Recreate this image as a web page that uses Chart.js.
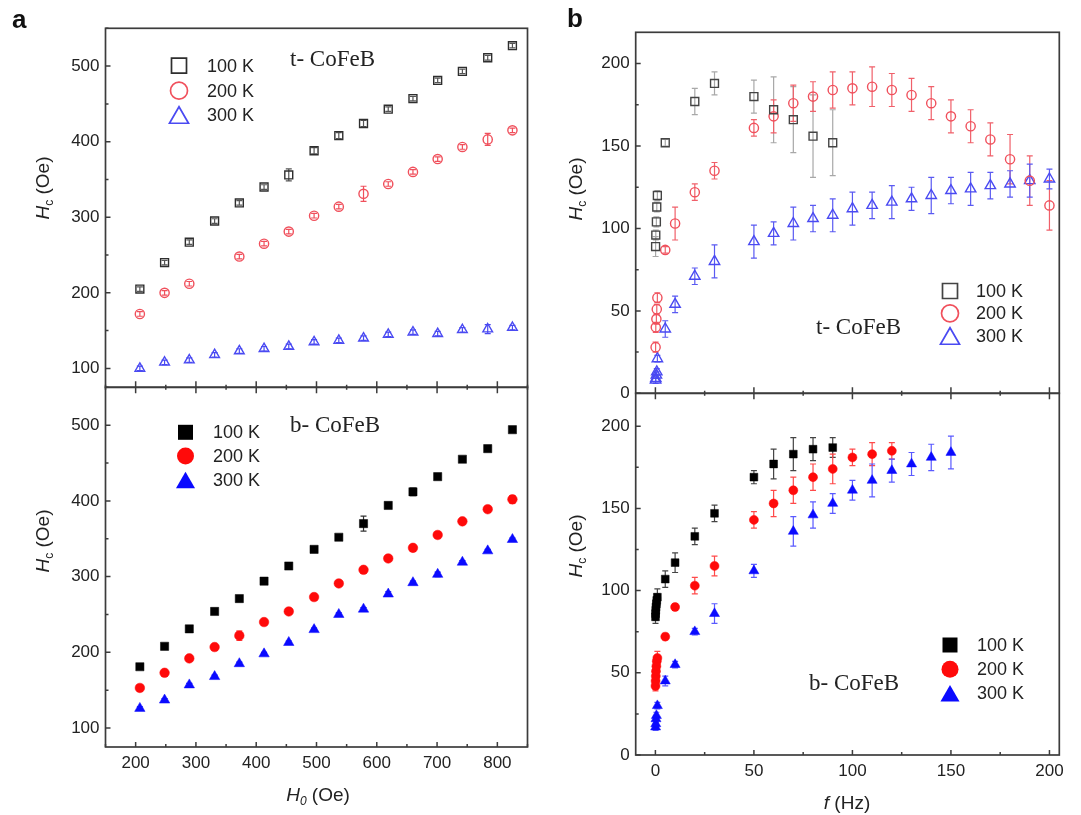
<!DOCTYPE html>
<html><head><meta charset="utf-8">
<script src="https://cdn.jsdelivr.net/npm/chart.js@4/dist/chart.umd.min.js"></script>
<style>
html,body{margin:0;padding:0;background:#fff;}
#wrap{position:relative;width:1081px;height:815px;overflow:hidden;background:#fff;}
#wrap canvas{position:absolute;left:0;top:0;}
</style></head><body>
<div id="wrap">
<canvas id="cTL" width="1081" height="815"></canvas>
<canvas id="cBL" width="1081" height="815"></canvas>
<canvas id="cTR" width="1081" height="815"></canvas>
<canvas id="cBR" width="1081" height="815"></canvas>
</div>
<script>
// ================= DATA =================
// Panel a : Hc vs H0
const H0 = [207,248,289,331,372,413,454,496,537,578,619,660,701,742,784,825];
const tHc100 = [205,240,267,295,319,340,356,388,408,424,443,457,481,493,511,527];
const tHc200 = [172,200,212,null,248,265,281,302,314,331,344,360,377,393,403,415];
const tHc300 = [100,108,111,118,123,126,129,135,137,140,145,148,146,151,152,154];
const tErr100 = [3,3,3,3,3,3,8,4,4,4,3,3,3,3,3,3];
const tErr200 = [3,3,3,0,3,3,3,3,3,10,3,3,3,3,8,3];
const tErr300 = [3,3,3,3,3,3,3,3,3,3,3,3,3,3,6,3];
const bHc100 = [181,208,231,254,271,294,314,336,352,370,394,412,432,455,469,494];
const bHc200 = [153,173,192,207,222,240,254,273,291,309,324,338,355,373,389,402];
const bHc300 = [126,137,157,168,185,198,213,230,250,257,277,292,303,319,334,349];
const bErr100 = [2,2,2,2,2,2,2,2,2,10,2,5,2,2,2,2];
const bErr200 = [2,2,2,2,6,2,2,4,2,2,2,2,2,2,2,5];
const bErr300 = [2,2,2,2,2,2,2,2,2,2,3,2,3,2,2,2];

// Panel b : Hc vs f
const fT100 = [0.1,0.2,0.5,0.7,1,5,20,30,50,60,70,80,90];
const tfHc100 = [89,96,104,113,120,152,177,188,180,172,166,156,152];
const tfErr100 = [6,3,3,3,3,2,8,7,10,20,20,25,20];
const fT200 = [0.1,0.2,0.5,0.7,1,5,10,20,30,50,60,70,80,90,100,110,120,130,140,150,160,170,180,190,200];
const tfHc200 = [28,40,45,51,58,87,103,122,135,161,168,176,180,184,185,186,184,181,176,168,162,154,142,129,114];
const tfErr200 = [3,3,3,3,3,2,10,5,5,5,10,11,9,11,10,12,10,10,10,10,10,10,15,15,15];
const fT300 = [0.1,0.2,0.5,0.7,1,5,10,20,30,50,60,70,80,90,100,110,120,130,140,150,160,170,180,190,200];
const tfHc300 = [8,9,11,13,21,39,54,71,80,92,97,103,106,108,112,114,116,118,120,123,124,126,127,129,130];
const tfErr300 = [2,2,2,2,2,5,5,5,10,10,7,10,8,10,10,8,10,7,11,8,10,8,8,10,6];

const fB100 = [0.05,0.1,0.2,0.3,0.5,0.7,1,5,10,20,30,50,60,70,80,90];
const bfHc100 = [84,86,88,90,92,94,96,107,117,133,147,169,177,183,186,187];
const bfErr100 = [4,4,4,4,4,4,5,5,6,5,5,4,9,10,7,6];
const fB200 = [0.05,0.1,0.2,0.3,0.5,0.7,1,5,10,20,30,50,60,70,80,90,100,110,120];
const bfHc200 = [42,45,48,51,54,57,59,72,90,103,115,143,153,161,169,174,181,183,185];
const bfErr200 = [3,3,3,3,3,3,4,2,2,5,6,5,8,8,8,9,5,7,5];
const fB300 = [0.1,0.2,0.3,0.5,1,5,10,20,30,50,70,80,90,100,110,120,130,140,150];
const bfHc300 = [17,19,22,24,30,45,55,75,86,112,136,146,153,161,167,173,177,181,184];
const bfErr300 = [2,2,2,2,2,3,2,2,6,4,9,8,6,6,10,7,7,8,10];

// Ticks
const ticksH0 = [200,300,400,500,600,700,800];
const ticksHcA = [100,200,300,400,500];
const ticksF = [0,50,100,150,200];
const ticksHcB = [0,50,100,150,200];
const seriesLabels = ['100 K','200 K','300 K'];

// ================= HELPERS =================
const SANS = 'Liberation Sans';
const W = 1081, H = 815;

function pts(xs, ys, es) {
  const d = [], e = [];
  xs.forEach((x, i) => { if (ys[i] !== null) { d.push({x: x, y: ys[i]}); e.push(es[i]); } });
  return {d, e};
}
function ds(xs, ys, es, style, r, color, filled, errColor) {
  const p = pts(xs, ys, es);
  return {
    data: p.d, errors: p.e, errColor: errColor,
    pointStyle: style, pointRadius: r, pointHoverRadius: r,
    pointBorderWidth: filled ? 0.5 : 1.4,
    pointBorderColor: color,
    pointBackgroundColor: filled ? color : 'rgba(0,0,0,0)',
    showLine: false
  };
}

const errorBarPlugin = {
  id: 'errbars',
  beforeDatasetsDraw(chart) {
    const ctx = chart.ctx, ys = chart.scales.y;
    chart.data.datasets.forEach((d, i) => {
      if (!d.errors) return;
      const meta = chart.getDatasetMeta(i);
      ctx.save();
      ctx.strokeStyle = d.errColor; ctx.lineWidth = 1.2;
      meta.data.forEach((el, j) => {
        const e = d.errors[j];
        if (!e) return;
        const v = d.data[j].y;
        const y1 = ys.getPixelForValue(v + e), y2 = ys.getPixelForValue(v - e), x = el.x;
        ctx.beginPath();
        ctx.moveTo(x, y1); ctx.lineTo(x, y2);
        ctx.moveTo(x - 3, y1); ctx.lineTo(x + 3, y1);
        ctx.moveTo(x - 3, y2); ctx.lineTo(x + 3, y2);
        ctx.stroke();
      });
      ctx.restore();
    });
  }
};

function framePlugin(xTicks, yTicks, xMinor, yMinor, crossX) {
  return {
    id: 'frame',
    afterDraw(chart) {
      const {ctx, chartArea: a} = chart;
      const xs = chart.scales.x, ys = chart.scales.y;
      ctx.save();
      ctx.strokeStyle = '#3c3c3c';
      ctx.lineWidth = 1.7;
      ctx.strokeRect(a.left, a.top, a.right - a.left, a.bottom - a.top);
      ctx.lineWidth = 1.5;
      ctx.beginPath();
      // y major + minor ticks (inward)
      yTicks.forEach(v => { const p = ys.getPixelForValue(v); ctx.moveTo(a.left, p); ctx.lineTo(a.left + 5, p); });
      for (let v = ys.min; v <= ys.max; v += 1) {
        if (Math.abs(v % yMinor) < 1e-9 && !yTicks.includes(v)) {
          const p = ys.getPixelForValue(v); ctx.moveTo(a.left, p); ctx.lineTo(a.left + 3, p);
        }
      }
      // x ticks
      xTicks.forEach(v => {
        const p = xs.getPixelForValue(v);
        if (crossX) { ctx.moveTo(p, a.bottom - 6); ctx.lineTo(p, a.bottom + 6); }
        else { ctx.moveTo(p, a.bottom); ctx.lineTo(p, a.bottom - 5); }
      });
      for (let v = Math.ceil(xs.min); v <= xs.max; v += 1) {
        if (Math.abs(v % xMinor) < 1e-9 && !xTicks.includes(v)) {
          const p = xs.getPixelForValue(v);
          if (crossX) { ctx.moveTo(p, a.bottom - 2.5); ctx.lineTo(p, a.bottom + 2.5); }
          else { ctx.moveTo(p, a.bottom); ctx.lineTo(p, a.bottom - 3); }
        }
      }
      ctx.stroke();
      ctx.restore();
    }
  };
}

function rich(ctx, parts, x, y, rot, base) {
  ctx.save();
  ctx.translate(x, y);
  if (rot) ctx.rotate(-Math.PI / 2);
  let w = 0;
  parts.forEach(p => { ctx.font = p.f; w += ctx.measureText(p.t).width; });
  let cx = -w / 2;
  ctx.textBaseline = 'alphabetic';
  ctx.fillStyle = '#222';
  parts.forEach(p => { ctx.font = p.f; ctx.fillText(p.t, cx, base + (p.dy || 0)); cx += ctx.measureText(p.t).width; });
  ctx.restore();
}

function sym(ctx, style, x, y, color, filled) {
  ctx.save();
  ctx.lineWidth = 1.7; ctx.strokeStyle = color; ctx.fillStyle = color;
  ctx.beginPath();
  if (style === 'rect') { ctx.rect(x - 7.5, y - 7.5, 15, 15); }
  else if (style === 'circle') { ctx.arc(x, y, 8.5, 0, 2 * Math.PI); }
  else { const r = 11, yc = y + r / 4; ctx.moveTo(x, yc - r); ctx.lineTo(x + r * 0.866, yc + r / 2); ctx.lineTo(x - r * 0.866, yc + r / 2); ctx.closePath(); }
  if (filled) ctx.fill(); else ctx.stroke();
  ctx.restore();
}

function deco(cfg) {
  return {
    id: 'deco',
    afterDraw(chart) {
      const ctx = chart.ctx;
      // legend
      const styles = ['rect', 'circle', 'triangle'];
      cfg.legend.ys.forEach((yy, i) => {
        sym(ctx, styles[i], cfg.legend.sx, yy, cfg.legend.colors[i], cfg.legend.filled);
        ctx.save();
        ctx.font = '18px ' + SANS; ctx.fillStyle = '#222'; ctx.textBaseline = 'middle'; ctx.textAlign = 'left';
        ctx.fillText(seriesLabels[i], cfg.legend.tx, yy + 1);
        ctx.restore();
      });
      // annotation
      ctx.save();
      ctx.font = '23px "Liberation Serif"'; ctx.fillStyle = '#222'; ctx.textBaseline = 'middle'; ctx.textAlign = 'left';
      ctx.fillText(cfg.note.t, cfg.note.x, cfg.note.y);
      ctx.restore();
      // y title
      rich(ctx, [
        {t: 'H', f: 'italic 19px ' + SANS},
        {t: 'c', f: '12px ' + SANS, dy: 4},
        {t: ' (Oe)', f: '19px ' + SANS}
      ], cfg.yt.x, cfg.yt.y, true, 7);
      if (cfg.xt) rich(ctx, cfg.xt.parts, cfg.xt.x, cfg.xt.y, false, 6);
      if (cfg.letter) {
        ctx.save();
        ctx.font = 'bold 26px ' + SANS; ctx.fillStyle = '#111'; ctx.textBaseline = 'alphabetic';
        ctx.fillText(cfg.letter.t, cfg.letter.x, cfg.letter.y);
        ctx.restore();
      }
    }
  };
}

function panel(id, area, xr, yr, xTicks, yTicks, xMinor, yMinor, showX, datasets, decoCfg) {
  const Wy = 50, Hx = showX ? 30 : 0;
  const tickFont = {family: SANS, size: 17};
  return new Chart(document.getElementById(id), {
    type: 'scatter',
    data: {datasets: datasets},
    options: {
      responsive: false, animation: false, events: [],
      layout: {padding: {left: area.l - Wy, right: W - area.r, top: area.t, bottom: H - area.b - Hx}},
      plugins: {legend: {display: false}, tooltip: {enabled: false}},
      scales: {
        x: {
          type: 'linear', min: xr[0], max: xr[1],
          grid: {display: false, drawTicks: false}, border: {display: false},
          afterBuildTicks: s => { s.ticks = xTicks.map(v => ({value: v})); },
          afterFit: s => { s.height = Hx; },
          ticks: {display: showX, padding: 6, font: tickFont, color: '#222', maxRotation: 0, autoSkip: false}
        },
        y: {
          type: 'linear', min: yr[0], max: yr[1],
          grid: {display: false, drawTicks: false}, border: {display: false},
          afterBuildTicks: s => { s.ticks = yTicks.map(v => ({value: v})); },
          afterFit: s => { s.width = Wy; },
          ticks: {padding: 6, font: tickFont, color: '#222', autoSkip: false}
        }
      }
    },
    plugins: [errorBarPlugin, framePlugin(xTicks, yTicks, xMinor, yMinor, !showX), deco(decoCfg)]
  });
}

// ================= COLORS =================
const oBlack = '#2e2e2e', oRed = '#f0505c', oBlue = '#4a4af2';
const fBlack = '#000000', fRed = '#ff0a0a', fBlue = '#0a0aff';

// ================= PANELS =================
panel('cTL', {l: 105.5, r: 527.5, t: 28.3, b: 387.3}, [150, 850], [75, 550], ticksH0, ticksHcA, 50, 50, false, [
  ds(H0, tHc100, tErr100, 'rect', 5.6, oBlack, false, '#555'),
  ds(H0, tHc200, tErr200, 'circle', 4.6, oRed, false, oRed),
  ds(H0, tHc300, tErr300, 'triangle', 5.6, oBlue, false, oBlue)
], {
  legend: {sx: 179, tx: 207, ys: [65.7, 90.7, 115], colors: [oBlack, oRed, oBlue], filled: false},
  note: {t: 't- CoFeB', x: 290, y: 60},
  yt: {x: 42, y: 188},
  letter: {t: 'a', x: 12, y: 28}
});

panel('cBL', {l: 105.5, r: 527.5, t: 387.3, b: 747}, [150, 850], [75, 550], ticksH0, ticksHcA, 50, 50, true, [
  ds(H0, bHc100, bErr100, 'rect', 5.8, fBlack, true, '#333'),
  ds(H0, bHc200, bErr200, 'circle', 4.8, fRed, true, fRed),
  ds(H0, bHc300, bErr300, 'triangle', 6, fBlue, true, fBlue)
], {
  legend: {sx: 185.5, tx: 213, ys: [432.3, 456, 480], colors: [fBlack, fRed, fBlue], filled: true},
  note: {t: 'b- CoFeB', x: 290, y: 426},
  yt: {x: 42, y: 541},
  xt: {x: 318, y: 795, parts: [
    {t: 'H', f: 'italic 19px ' + SANS},
    {t: '0', f: 'italic 12px ' + SANS, dy: 4},
    {t: ' (Oe)', f: '19px ' + SANS}
  ]}
});

panel('cTR', {l: 635.7, r: 1059.3, t: 32.3, b: 393.3}, [-10, 205], [0, 219], ticksF, ticksHcB, 25, 25, false, [
  ds(fT100, tfHc100, tfErr100, 'rect', 5.6, '#444', false, '#a8a8a8'),
  ds(fT200, tfHc200, tfErr200, 'circle', 4.6, oRed, false, '#f0606a'),
  ds(fT300, tfHc300, tfErr300, 'triangle', 6, oBlue, false, '#5a5af2')
], {
  legend: {sx: 950, tx: 976, ys: [291, 313.3, 336], colors: ['#444', oRed, oBlue], filled: false},
  note: {t: 't- CoFeB', x: 816, y: 328},
  yt: {x: 575, y: 189},
  letter: {t: 'b', x: 567, y: 27}
});

panel('cBR', {l: 635.7, r: 1059.3, t: 393.3, b: 755}, [-10, 205], [0, 220], ticksF, ticksHcB, 25, 25, true, [
  ds(fB100, bfHc100, bfErr100, 'rect', 5.5, fBlack, true, '#444'),
  ds(fB200, bfHc200, bfErr200, 'circle', 4.5, fRed, true, '#ff4a4a'),
  ds(fB300, bfHc300, bfErr300, 'triangle', 5.8, fBlue, true, '#5a5aff')
], {
  legend: {sx: 950, tx: 977, ys: [645, 669.3, 693.3], colors: [fBlack, fRed, fBlue], filled: true},
  note: {t: 'b- CoFeB', x: 809, y: 684},
  yt: {x: 575, y: 546},
  xt: {x: 847, y: 803, parts: [
    {t: 'f', f: 'italic 19px ' + SANS},
    {t: ' (Hz)', f: '19px ' + SANS}
  ]}
});
</script>
</body></html>
